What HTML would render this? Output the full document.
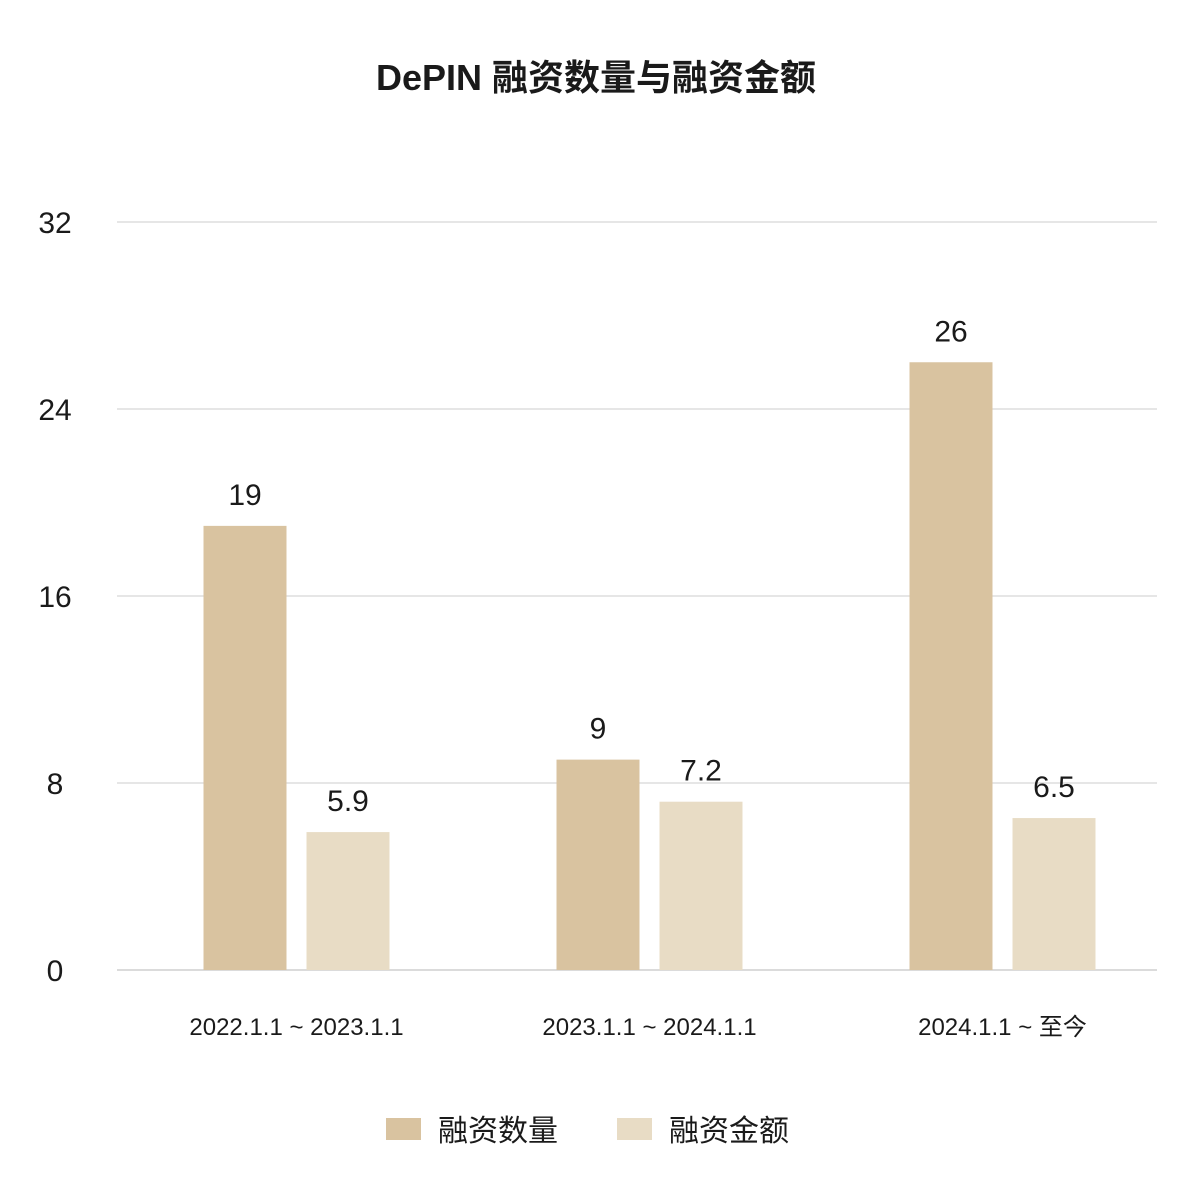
<!DOCTYPE html>
<html><head><meta charset="utf-8"><style>
body{margin:0;background:#fff;}
svg text{font-family:"Liberation Sans","Noto Sans CJK SC",sans-serif;fill:#1a1a1a;}
</style></head><body>
<svg width="1204" height="1193" id="chart">
<text x="596" y="90" text-anchor="middle" font-size="36" font-weight="bold">DePIN 融资数量与融资金额</text>
<g id="grid"></g><g id="bars"></g>
<g>
<rect x="386" y="1118" width="35" height="22" fill="#d9c3a0"/>
<text x="438" y="1141" font-size="30">融资数量</text>
<rect x="617" y="1118" width="35" height="22" fill="#e8dcc5"/>
<text x="669" y="1141" font-size="30">融资金额</text>
</g>
</svg>
<script>
const categories=["2022.1.1 ~ 2023.1.1","2023.1.1 ~ 2024.1.1","2024.1.1 ~ 至今"];
const countValues=[19,9,26];
const amountValues=[5.9,7.2,6.5];
const yTicks=[0,8,16,24,32];
const NS="http://www.w3.org/2000/svg";
const y0=970,y1=222,yMax=32;
const y=v=>y0-(v/yMax)*(y0-y1);
const x0=120,band=353;
const xc=i=>x0+band*(i+0.5);
function mk(t,a,p){const e=document.createElementNS(NS,t);for(const k in a)e.setAttribute(k,a[k]);p.appendChild(e);return e;}
const grid=document.getElementById('grid'),bars=document.getElementById('bars');
yTicks.forEach(t=>{
 const l=mk('line',{x1:117,x2:1157,y1:y(t),y2:y(t),stroke:t===0?'#cfcfcf':'#dedede','stroke-width':1.5},grid);
 
 
 const tx=mk('text',{x:55,y:y(t)+11,'text-anchor':'middle','font-size':30},grid);tx.textContent=t;
 
 
});
categories.forEach((c,i)=>{
 const cx=xc(i);
 [[countValues[i],'#d9c3a0',cx-93,'count'],[amountValues[i],'#e8dcc5',cx+10,'amount']].forEach(([v,col,bx,nm])=>{
  const r=mk('rect',{x:bx,y:y(v),width:83,height:y0-y(v),fill:col},bars);
  
  
  const t=mk('text',{x:bx+41.5,y:y(v)-21,'text-anchor':'middle','font-size':30},bars);t.textContent=v;
  
  
 });
 const xl=mk('text',{x:cx,y:1035,'text-anchor':'middle','font-size':24},bars);xl.textContent=c;
 
 
});
</script>
</body></html>
